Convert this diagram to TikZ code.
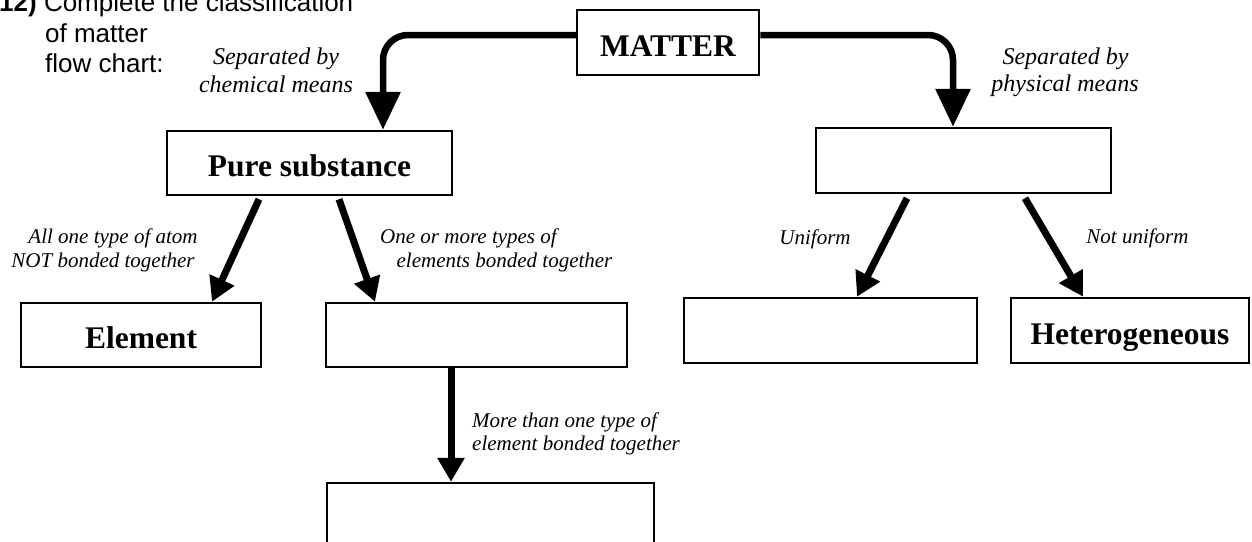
\documentclass[tikz,border=0pt]{standalone}
\usepackage{fontspec}
\setmainfont{Liberation Serif}
\newfontfamily\arialfont{Liberation Sans}
\usetikzlibrary{arrows.meta}
\begin{document}
\begin{tikzpicture}[x=1pt,y=-1pt,
  box/.style={draw, line width=2.5pt, inner sep=0pt, font=\fontsize{31.5}{36}\selectfont\bfseries, text height=27.5pt, text depth=0pt},
  lbl/.style={inner sep=0pt, anchor=base, font=\fontsize{21}{24}\selectfont\itshape},
  biglbl/.style={lbl, font=\fontsize{24}{28}\selectfont\itshape},
  bigarrow/.style={line width=6.5pt, -{Triangle[length=38pt,width=34pt]}, rounded corners=25pt},
  arrowsm/.style={line width=7pt, -{Triangle[length=24pt,width=26pt]}},
  title/.style={inner sep=0pt, anchor=base west, font=\arialfont\fontsize{26}{30}\selectfont}
]
\clip (0,0) rectangle (1252,541);
\fill[white] (0,0) rectangle (1252,541);

% boxes
\node[box, minimum width=182pt, minimum height=65pt] (matter) at (668,42.5) {MATTER};
\node[box, minimum width=285pt, minimum height=64pt] (pure) at (309.5,163) {Pure substance};
\node[box, minimum width=295pt, minimum height=65pt] (mix) at (963.5,160.5) {};
\node[box, minimum width=240pt, minimum height=64pt] (element) at (141,335) {Element};
\node[box, minimum width=301pt, minimum height=64pt] (compound) at (476.5,335) {};
\node[box, minimum width=293pt, minimum height=65pt] (homo) at (830.5,330.5) {};
\node[box, minimum width=238pt, minimum height=65pt] (hetero) at (1130,330.5) {Heterogeneous};
\node[box, minimum width=327pt, minimum height=90pt] (bottom) at (490.5,528) {};

% connectors
\draw[bigarrow] ([yshift=7.5pt]matter.west) -| ([xshift=73.5pt]pure.north);
\draw[bigarrow] ([yshift=7.5pt]matter.east) -| ([xshift=-10.5pt]mix.north);
\draw[arrowsm] ([xshift=-50.5pt,yshift=-3pt]pure.south) -- ([xshift=71pt]element.north);
\draw[arrowsm] ([xshift=29.5pt,yshift=-3pt]pure.south) -- ([xshift=-101.5pt]compound.north);
\draw[arrowsm] ([xshift=-56.5pt,yshift=-4pt]mix.south) -- ([xshift=26.5pt]homo.north);
\draw[arrowsm] ([xshift=61.5pt,yshift=-4pt]mix.south) -- ([xshift=-47pt]hetero.north);
\draw[arrowsm] ([xshift=-25.5pt]compound.south) -- ([xshift=-39.5pt]bottom.north);

% labels
\node[biglbl] (sepc1) at (276,64) {Separated by};
\node[biglbl] (sepc2) at (276,92) {chemical means};
\node[biglbl] (sepp1) at (1065.5,64) {Separated by};
\node[biglbl] (sepp2) at (1065,91) {physical means};
\node[lbl] (atom1) at (113,243) {All one type of atom};
\node[lbl] (atom2) at (103,267) {NOT bonded together};
\node[lbl] (types1) at (468.5,243) {One or more types of};
\node[lbl] (types2) at (504.5,267) {elements bonded together};
\node[lbl] (unif) at (815,244) {Uniform};
\node[lbl] (nunif) at (1137.5,243) {Not uniform};
\node[lbl, anchor=base west] (more1) at (472,427) {More than one type of};
\node[lbl, anchor=base west] (more2) at (472,450) {element bonded together};

% title
\node[title] (t1) at (-1,11) {\textbf{12)} Complete the classification};
\node[title] (t2) at (45,42) {of matter};
\node[title] (t3) at (45,72) {flow chart:};
\end{tikzpicture}
\end{document}
